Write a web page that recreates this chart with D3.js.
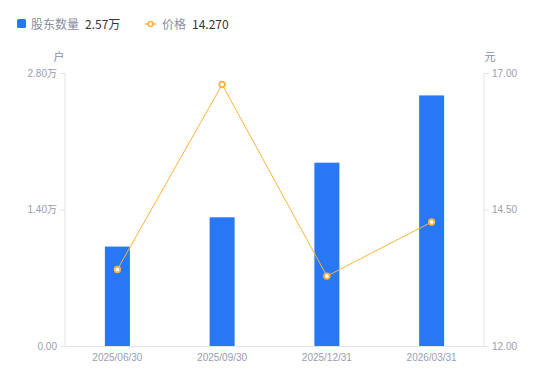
<!DOCTYPE html>
<html>
<head>
<meta charset="utf-8">
<script src="https://cdn.jsdelivr.net/npm/d3@7"></script>
<style>
body{margin:0;background:#fff;font-family:"Noto Sans CJK SC","Noto Sans",sans-serif;}
</style>
</head>
<body>
<script>
// chart data
const dates=["2025/06/30","2025/09/30","2025/12/31","2026/03/31"];
const holders=[10200,13200,18800,25700];
const prices=[13.40,16.79,13.28,14.27];
const leftTicks=[0,14000,28000];
const leftTickLabels=["0.00","1.40万","2.80万"];
const rightTicks=[12,14.5,17];

const w=550,h=381;
const plotL=65,plotR=484,plotT=73,plotB=346;
const axisColor="#e3e3ea",tickText="#9a9db0";
const barColor="#2878f5",lineColor="#fbb33e";

const svg=d3.select("body").append("svg").attr("width",w).attr("height",h);

const x=d3.scaleBand().domain(dates).range([plotL,plotR]);
const yL=d3.scaleLinear().domain([0,28000]).range([plotB,plotT]);
const yR=d3.scaleLinear().domain([12,17]).range([plotB,plotT]);

// axes
const xAxis=d3.axisBottom(x).tickSize(0).tickPadding(8);
const gx=svg.append("g").attr("transform","translate(0,"+plotB+")").call(xAxis);
gx.select(".domain").attr("stroke",axisColor);
gx.selectAll("text").attr("fill",tickText).style("font-size","10px").style("font-family","Liberation Sans, Arial, sans-serif");

const yAxisL=d3.axisLeft(yL).tickValues(leftTicks).tickSize(5).tickPadding(3)
  .tickFormat((d,i)=>leftTickLabels[i]);
const gl=svg.append("g").attr("transform","translate("+plotL+",0)").call(yAxisL);
gl.select(".domain").attr("stroke",axisColor).attr("d","M0,"+plotT+"V"+plotB);
gl.selectAll(".tick line").attr("stroke",axisColor);
gl.selectAll("text").attr("fill",tickText).style("font-size","10px").style("font-family","Liberation Sans, Arial, 'Noto Sans CJK SC', sans-serif");

const yAxisR=d3.axisRight(yR).tickValues(rightTicks).tickSize(5).tickPadding(3).tickFormat(d3.format(".2f"));
const gr=svg.append("g").attr("transform","translate("+plotR+",0)").call(yAxisR);
gr.select(".domain").attr("stroke",axisColor).attr("d","M0,"+plotT+"V"+plotB);
gr.selectAll(".tick line").attr("stroke",axisColor);
gr.selectAll("text").attr("fill",tickText).style("font-size","10px").style("font-family","Liberation Sans, Arial, sans-serif");

// unit labels
svg.append("text").attr("x",59).attr("y",61).attr("text-anchor","middle")
  .attr("fill","#8a8d9e").style("font-size","11px").text("户");
svg.append("text").attr("x",490).attr("y",61).attr("text-anchor","middle")
  .attr("fill","#8a8d9e").style("font-size","11px").text("元");

// bars
const bw=25;
svg.selectAll("rect.bar").data(holders).enter().append("rect").attr("class","bar")
  .attr("x",(d,i)=>x(dates[i])+x.bandwidth()/2-bw/2)
  .attr("y",d=>yL(d)).attr("width",bw).attr("height",d=>plotB-yL(d))
  .attr("fill",barColor);

// price line
const line=d3.line().x((d,i)=>x(dates[i])+x.bandwidth()/2).y(d=>yR(d));
svg.append("path").datum(prices).attr("d",line).attr("fill","none")
  .attr("stroke",lineColor).attr("stroke-width",1);
svg.selectAll("circle.pt").data(prices).enter().append("circle").attr("class","pt")
  .attr("cx",(d,i)=>x(dates[i])+x.bandwidth()/2).attr("cy",d=>yR(d)).attr("r",2.8)
  .attr("fill","#fff").attr("stroke",lineColor).attr("stroke-width",1.8);

// legend
const lg=svg.append("g").style("font-size","12px");
lg.append("rect").attr("x",17).attr("y",19).attr("width",9).attr("height",9).attr("rx",1.5).attr("fill",barColor);
lg.append("text").attr("x",31).attr("y",28.5).attr("fill","#8a8d9e").text("股东数量");
lg.append("text").attr("x",85).attr("y",28.5).attr("fill","#333").text("2.57万");
lg.append("line").attr("x1",145).attr("x2",156).attr("y1",24).attr("y2",24).attr("stroke",lineColor).attr("stroke-width",1.5);
lg.append("circle").attr("cx",150.5).attr("cy",24).attr("r",2.5).attr("fill","#fff").attr("stroke",lineColor).attr("stroke-width",1.5);
lg.append("text").attr("x",162).attr("y",28.5).attr("fill","#8a8d9e").text("价格");
lg.append("text").attr("x",192).attr("y",28.5).attr("fill","#333").text("14.270");
</script>
</body>
</html>
